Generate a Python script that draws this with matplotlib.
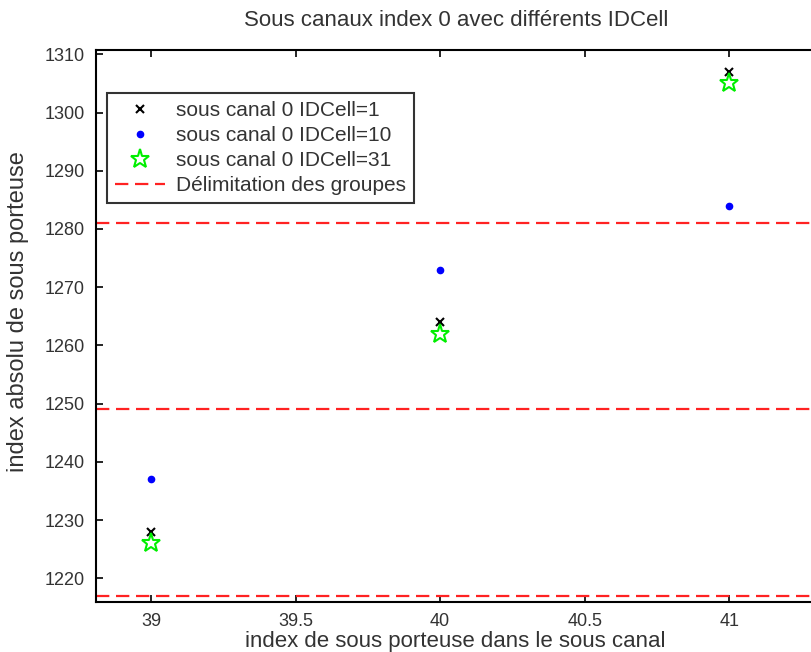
import matplotlib
matplotlib.use('Agg')
import matplotlib.pyplot as plt

plt.rcParams['font.family'] = ['Liberation Sans Narrow', 'Liberation Sans', 'DejaVu Sans']

x = [39, 40, 41]
idcell_1 = [1228, 1264, 1307]
idcell_10 = [1237, 1273, 1284]
idcell_31 = [1226, 1262, 1305]
group_limits = [1217, 1249, 1281]

xticks = [39, 39.5, 40, 40.5, 41]
yticks = [1220, 1230, 1240, 1250, 1260, 1270, 1280, 1290, 1300, 1310]

txt = '#333333'
fig = plt.figure(figsize=(8.11, 6.52), dpi=100)
ax = fig.add_axes([96 / 811, 1 - 601.5 / 652, 778 / 811, 551.5 / 652])

ax.plot(x, idcell_1, 'x', color='black', ms=6, mew=1.5, label='sous canal 0 IDCell=1')
ax.plot(x, idcell_10, '.', color='blue', ms=9, label='sous canal 0 IDCell=10')
ax.plot(x, idcell_31, '*', color='#00ee00', mfc='none', ms=14, mew=1.5,
        label='sous canal 0 IDCell=31')
for i, g in enumerate(group_limits):
    ax.axhline(g, color='#ff2222', ls=(0, (6, 3)), lw=1.6,
               label='Délimitation des groupes' if i == 0 else None)

ax.set_xlim(38.81, 41.5)
ax.set_ylim(1216.0, 1310.74)
ax.set_xticks(xticks)
ax.set_xticklabels(['39', '39.5', '40', '40.5', '41'])
ax.set_yticks(yticks)
ax.tick_params(direction='in', top=True, right=True, length=5, width=1.2,
               labelsize=13, colors='black', labelcolor=txt, pad=8)
for s in ax.spines.values():
    s.set_linewidth(1.5)

fig.text(456 / 811, 1 - 20 / 652, 'Sous canaux index 0 avec différents IDCell',
         ha='center', va='center', fontsize=16, color=txt)
fig.text(455 / 811, 1 - 641 / 652, 'index de sous porteuse dans le sous canal',
         ha='center', va='center', fontsize=16, color=txt)
fig.text(18 / 811, 1 - 312 / 652, 'index absolu de sous porteuse',
         ha='center', va='center', rotation=90, fontsize=17, color=txt)

leg = ax.legend(loc='upper left', bbox_to_anchor=((107 - 96) / 778, (601.5 - 93) / 551.5),
                borderaxespad=0, fontsize=15, frameon=True, fancybox=False,
                edgecolor='black', handlelength=2.4, borderpad=0.4, labelspacing=0.28,
                handletextpad=0.5)
leg.get_frame().set_linewidth(1.5)
for t in leg.get_texts():
    t.set_color(txt)

fig.savefig('out.png', dpi=100)
